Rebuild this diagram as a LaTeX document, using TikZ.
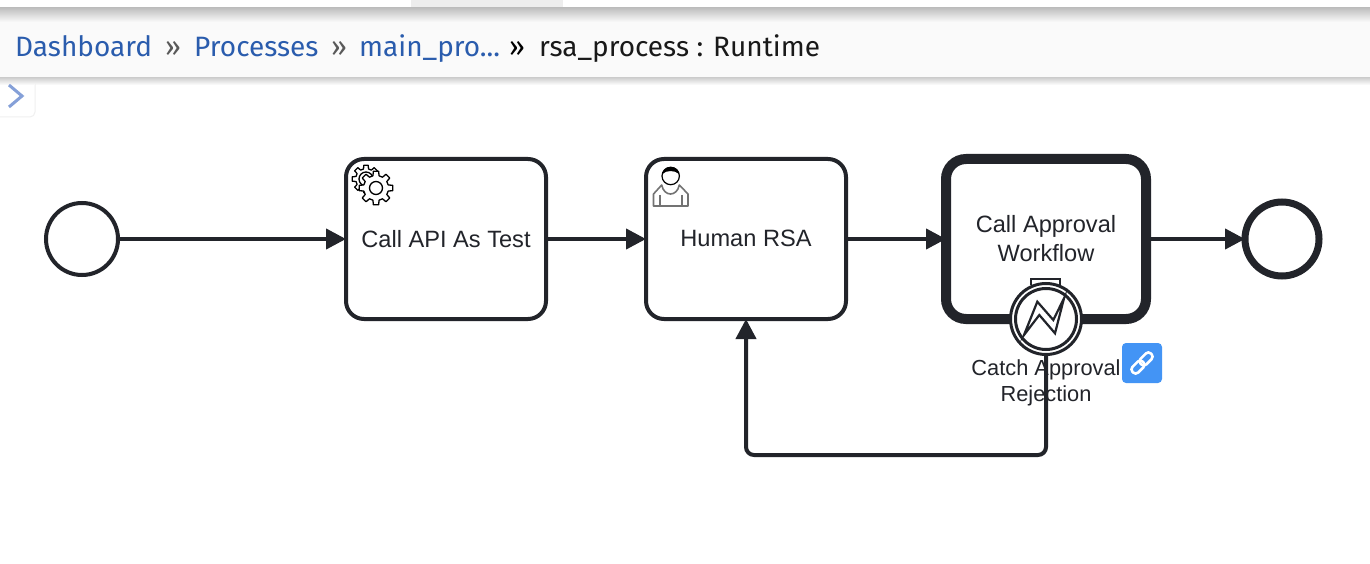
\documentclass[tikz,border=0pt]{standalone}
\usepackage{fontspec}
\setmainfont{Liberation Sans}
\newfontfamily\crumbfont{Fira Sans}
\usetikzlibrary{arrows.meta}
\definecolor{inkdark}{HTML}{22242A}
\definecolor{linkblue}{HTML}{2A5CAD}
\definecolor{chipblue}{HTML}{4394F5}
\definecolor{barfill}{HTML}{FAFAFA}
\definecolor{chevronblue}{HTML}{85A0D8}
\tikzset{
  taskbox/.style={draw=inkdark, fill=white, line width=4pt, rounded corners=18pt, minimum width=200pt, minimum height=160pt, outer sep=0pt, align=center, text=inkdark, font=\fontsize{23.6}{29}\selectfont},
  eventring/.style={draw=inkdark, fill=white, circle, outer sep=0pt, inner sep=0pt},
  flowline/.style={draw=inkdark, line width=4pt, -{Triangle[length=20pt,width=20pt]}},
  crumb/.style={anchor=base west, inner sep=0pt, font=\crumbfont\fontsize{28}{32}\selectfont}
}
\newcommand{\gearicon}[4]{% x, y, outer radius, hole radius
\filldraw[draw=black, fill=white, line width=1.3pt, line join=round] (#1,#2)+(-14:#3*0.74)
  \foreach \a in {0,45,...,315} {
    -- +(\a-14:#3*0.74) -- +(\a-9:#3) -- +(\a+9:#3) -- +(\a+14:#3*0.74) -- +(\a+31:#3*0.74)
  } -- cycle;
\draw[black, line width=1.3pt] (#1,#2) circle (#4);
}
\begin{document}
\begin{tikzpicture}[x=1pt, y=-1pt]
\useasboundingbox (0, 0) rectangle (1370, 564);
\fill[white] (0, 0) rectangle (1370, 564);
%top bar
\fill[black!7] (411, 0) rectangle (563, 9);
\shade[top color=black!25, bottom color=barfill] (0, 8) rectangle (1370, 22);
\fill[barfill] (0, 22) rectangle (1370, 78);
\shade[top color=black!18, bottom color=white] (0, 78) rectangle (1370, 85);
%sidebar toggle
\filldraw[draw=black!6, fill=white, line width=1pt, rounded corners=5pt] (-5, 78) -- (35, 78) -- (35, 117) -- (-5, 117) -- cycle;
\shade[top color=black!18, bottom color=white] (0, 78) rectangle (35, 85);
\draw[draw=chevronblue, line width=3pt] (9, 85) -- (22, 96) -- (9, 107);
\node[crumb, text=linkblue] (crumbdash) at (15, 56.7) {Dashboard};
\node[crumb, text=black!65] (sepone) at (165, 56.7) {»};
\node[crumb, text=linkblue] (crumbproc) at (194, 56.7) {Processes};
\node[crumb, text=black!65] (septwo) at (331, 56.7) {»};
\node[crumb, text=linkblue] (crumbmain) at (359, 56.7) {main\_pro...};
\node[crumb, text=black] (septhree) at (509, 56.7) {»};
\node[crumb, text=black!90] (crumbrsa) at (539, 56.7) {rsa\_process : Runtime};
%events and tasks
\node[eventring, line width=4pt, minimum size=72pt] (startevent) at (82, 239) {};
\node[taskbox] (taskapi) at (446, 239) {\raisebox{1pt}{Call API As Test}};
\node[taskbox] (taskhuman) at (746, 239) {\raisebox{1pt}{Human RSA}};
\node[taskbox, line width=10pt, rounded corners=20pt] (callapproval) at (1046, 239) {Call Approval\\Workflow};
\node[eventring, line width=7pt, minimum size=74pt] (endevent) at (1282, 239) {};
\coordinate (loopright) at (1046, 455);
\coordinate (loopleft) at (746, 455);
%gears
\gearicon{366}{179}{14}{7}
\gearicon{376}{188}{17}{6.5}
%person
\draw[black!55, line width=1.6pt, line join=round] (653.5, 206) -- (653.5, 194) -- (661.7, 185) .. controls (664, 197) and (677, 197) .. (679.3, 185) -- (688, 194) -- (688, 206) -- cycle;
\draw[black!55, line width=1.6pt] (660, 195) -- (660, 206) (681.7, 195) -- (681.7, 206);
\filldraw[draw=black, fill=white, line width=1.2pt] (670.7, 176) circle (8.7);
\fill[black] (662.5, 174) .. controls (663, 164.5) and (678.5, 164.5) .. (679, 174) .. controls (675, 170) and (666, 170) .. cycle;
%connectors
\draw[flowline] (startevent) -- (taskapi);
\draw[flowline] (taskapi) -- (taskhuman);
\draw[flowline] (taskhuman) -- (callapproval);
\draw[flowline] (callapproval) -- (endevent);
%boundary event
\draw[draw=inkdark, line width=2pt] (1031, 285) -- (1031, 279) -- (1059.5, 279) -- (1059.5, 285);
\node[eventring, line width=3pt, minimum size=71pt] (catchevent) at (1046, 319) {};
\node[eventring, line width=3pt, minimum size=61pt] (catchinner) at (catchevent) {};
\draw[draw=inkdark, line width=2.2pt, line join=miter] (1024, 335) -- (1037.3, 301.7) -- (1053.3, 320) -- (1064, 298.3) -- (1055, 333.3) -- (1039.3, 315) -- cycle;
\draw[flowline, rounded corners=8pt] (catchevent.south) -- (loopright) -- (loopleft) -- (taskhuman.south);
\node[inner sep=0pt, align=center, text=inkdark, font=\fontsize{21.8}{26}\selectfont] (catchlabel) at (1046, 382.5) {Catch Approval\\Rejection};
%link chip
\node[fill=chipblue, rounded corners=4pt, minimum size=40pt, inner sep=0pt, outer sep=0pt] (linkchip) at (1142, 363) {};
\begin{scope}[shift={(linkchip.center)}, rotate=45]
\draw[white, line width=2.6pt, rounded corners=3.5pt] (-13, -4) rectangle (1.5, 4);
\draw[white, line width=2.6pt, rounded corners=3.5pt] (-1.5, -4) rectangle (13, 4);
\end{scope}
\end{tikzpicture}
\end{document}
